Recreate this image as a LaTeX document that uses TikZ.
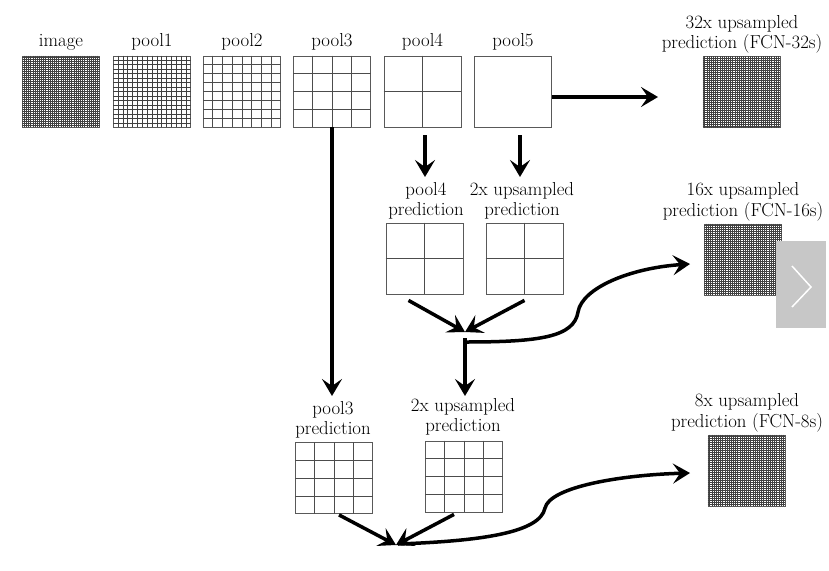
\documentclass[tikz,border=0pt]{standalone}
\usepackage{fontspec}
\usetikzlibrary{arrows.meta,calc}

% square feature map with an n x n grid of cells
\newcommand\cellgrid[5]{% #1 name, #2 cx, #3 cy, #4 cells, #5 line style
  \node[mapframe] (#1) at (#2,#3) {};
  \ifnum#4>1
    \pgfmathtruncatemacro\cgLast{#4-1}%
    \foreach \k in {1,...,\cgLast}{%
      \draw[#5] ($(#1.north west)!\k/#4!(#1.north east)$) -- ($(#1.south west)!\k/#4!(#1.south east)$);
      \draw[#5] ($(#1.north west)!\k/#4!(#1.south west)$) -- ($(#1.north east)!\k/#4!(#1.south east)$);
    }%
  \fi
}

\begin{document}
\begin{tikzpicture}[x=1pt,y=-1pt,
  lbl/.style={font=\fontsize{18.8}{20.5}\selectfont, align=center, inner sep=0pt},
  mapframe/.style={draw=black!65, line width=0.8pt, minimum width=77pt, minimum height=71pt, inner sep=0pt},
  coarse/.style={draw=black!70, line width=0.8pt},
  medium/.style={draw=black!75, line width=0.6pt},
  dense/.style={draw=black!75, line width=0.75pt},
  flow/.style={line width=3.5pt, -{Stealth[length=17pt,width=20pt,inset=7pt]}},
]
\useasboundingbox (0,0) rectangle (829,570);

% ---- encoder feature maps ----
\cellgrid{img}{61}{91.5}{36}{dense}
\cellgrid{pa}{152}{91.5}{16}{medium}
\cellgrid{pb}{242}{91.5}{8}{coarse}
\cellgrid{pc}{332}{91.5}{4}{coarse}
\cellgrid{pd}{422.5}{91.5}{2}{coarse}
\cellgrid{pe}{513}{91.5}{1}{coarse}

\node[lbl] (limg) at (61,42) {image};
\node[lbl] (lpa) at (152,42) {pool1};
\node[lbl] (lpb) at (242,42) {pool2};
\node[lbl] (lpc) at (332,42) {pool3};
\node[lbl] (lpd) at (422.5,42) {pool4};
\node[lbl] (lpe) at (513,42) {pool5};

% ---- FCN-32s ----
\cellgrid{f32}{741.5}{92}{36}{dense}
\node[lbl] (l32) at (742,34.5) {32x upsampled\\prediction (FCN-32s)};

% ---- FCN-16s branch ----
\cellgrid{p4p}{424.5}{258.5}{2}{coarse}
\cellgrid{u2a}{524.5}{258.5}{2}{coarse}
\node[lbl] (lp4p) at (426,201) {pool4\\prediction};
\node[lbl] (lu2a) at (522,201) {2x upsampled\\prediction};

\cellgrid{f16}{743}{259.5}{36}{dense}
\node[lbl] (l16) at (743,202) {16x upsampled\\prediction (FCN-16s)};

% ---- FCN-8s branch ----
\cellgrid{p3p}{334}{478}{4}{coarse}
\cellgrid{u2b}{464}{476.5}{4}{coarse}
\node[lbl] (lp3p) at (333,420) {pool3\\prediction};
\node[lbl] (lu2b) at (463,417) {2x upsampled\\prediction};

\cellgrid{f8}{746.5}{470.5}{36}{dense}
\node[lbl] (l8) at (747,413) {8x upsampled\\prediction (FCN-8s)};

% ---- arrow end points ----
\coordinate (e32) at (658,97);
\coordinate (e3) at (332,396);
\coordinate (s4) at (425,135);
\coordinate (e4) at (425,177);
\coordinate (s5) at (520,135);
\coordinate (e5) at (520,177);
\coordinate (m1) at (465,332);
\coordinate (j1) at (465,342);
\coordinate (j1top) at (465,338);
\coordinate (e2a) at (465,396);
\coordinate (e16) at (690,264);
\coordinate (m2) at (396,545);
\coordinate (s2) at (398,544);
\coordinate (e8) at (690,473);

% ---- connectors ----
\draw[flow] ([yshift=-5.5pt]pe.east) -- (e32);
\draw[flow] (pc.south) -- (e3);
\draw[flow] (s4) -- (e4);
\draw[flow] (s5) -- (e5);

\draw[flow] ([xshift=-16pt,yshift=-6pt]p4p.south) -- (m1);
\draw[flow] ([yshift=-6pt]u2a.south) -- (m1);
\draw[flow] (j1top) -- (e2a);
\draw[flow] (j1) .. controls (540,342) and (574,337) .. (578,312)
                 .. controls (582,288) and (630,268) .. (e16);

\draw[flow] ([xshift=5pt,yshift=-1pt]p3p.south) -- (m2);
\draw[flow] ([xshift=-10pt,yshift=-2pt]u2b.south) -- (m2);
\draw[flow] (s2) .. controls (480,541) and (540,533) .. (545,508)
                 .. controls (550,487) and (620,475) .. (e8);

% ---- slide control ----
\fill[black!22] (776,241) rectangle (826,328);
\draw[white, line width=1.5pt] (792,266) -- (811,287) -- (792,307);
\end{tikzpicture}
\end{document}
